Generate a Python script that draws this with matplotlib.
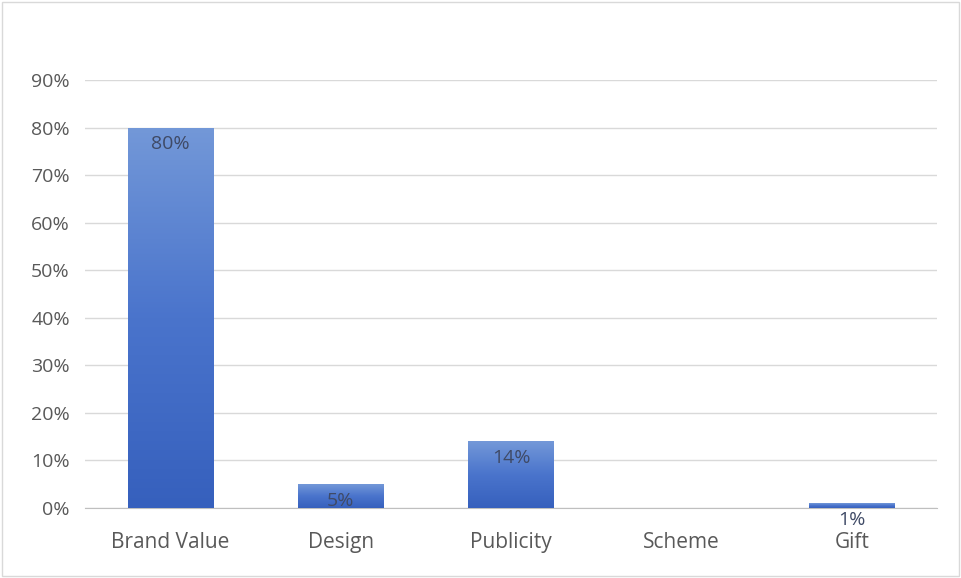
import numpy as np
import matplotlib.pyplot as plt
from matplotlib.colors import LinearSegmentedColormap
from matplotlib.patches import Rectangle

categories = ["Brand Value", "Design", "Publicity", "Scheme", "Gift"]
values = [80, 5, 14, 0, 1]
labels = ["80%", "5%", "14%", "", "1%"]
yticks = [0, 10, 20, 30, 40, 50, 60, 70, 80, 90]

plt.rcParams['font.family'] = ['Open Sans', 'DejaVu Sans']

fig = plt.figure(figsize=(9.61, 5.78), dpi=100)
fig.patches.append(Rectangle((0.002, 0.003), 0.996, 0.994, transform=fig.transFigure,
                             fill=False, edgecolor='#d9d9d9', linewidth=1))
ax = fig.add_axes([0.0885, 0.1211, 0.8865, 0.7405])

x = np.arange(len(categories))
width = 0.5
bars = ax.bar(x, values, width=width, color='none', edgecolor='none', zorder=3)

# per-bar vertical gradient, light at top, dark at bottom
cmap = LinearSegmentedColormap.from_list('grad', ['#3660bd', '#4a74cc', '#7398d8'])
grad = np.linspace(0, 1, 256).reshape(-1, 1)
for b, v in zip(bars, values):
    if v <= 0:
        continue
    x0 = b.get_x()
    im = ax.imshow(grad, cmap=cmap, origin='lower', aspect='auto',
                   extent=[x0, x0 + width, 0, v], zorder=3)
    im.set_clip_path(b)

for xi, v, lab in zip(x, values, labels):
    if lab:
        ax.annotate(lab, (xi, v), xytext=(0, -12), textcoords='offset points',
                    ha='center', va='center', fontsize=14, color='#3f4a66', zorder=4)

ax.set_xlim(-0.5, len(categories) - 0.5)
ax.set_ylim(0, 90)
ax.set_yticks(yticks)
ax.set_yticklabels([f"{t}%" for t in yticks])
ax.set_xticks(x)
ax.set_xticklabels(categories)
ax.grid(axis='y', color='#d9d9d9', linewidth=1, zorder=0)
ax.set_axisbelow(True)
for s in ['top', 'right', 'left']:
    ax.spines[s].set_visible(False)
ax.spines['bottom'].set_color('#bfbfbf')
ax.tick_params(axis='both', length=0, labelsize=14, colors='#595959')
ax.tick_params(axis='x', labelsize=15, pad=17)
ax.tick_params(axis='y', pad=11)

fig.savefig('out.png', dpi=100)
